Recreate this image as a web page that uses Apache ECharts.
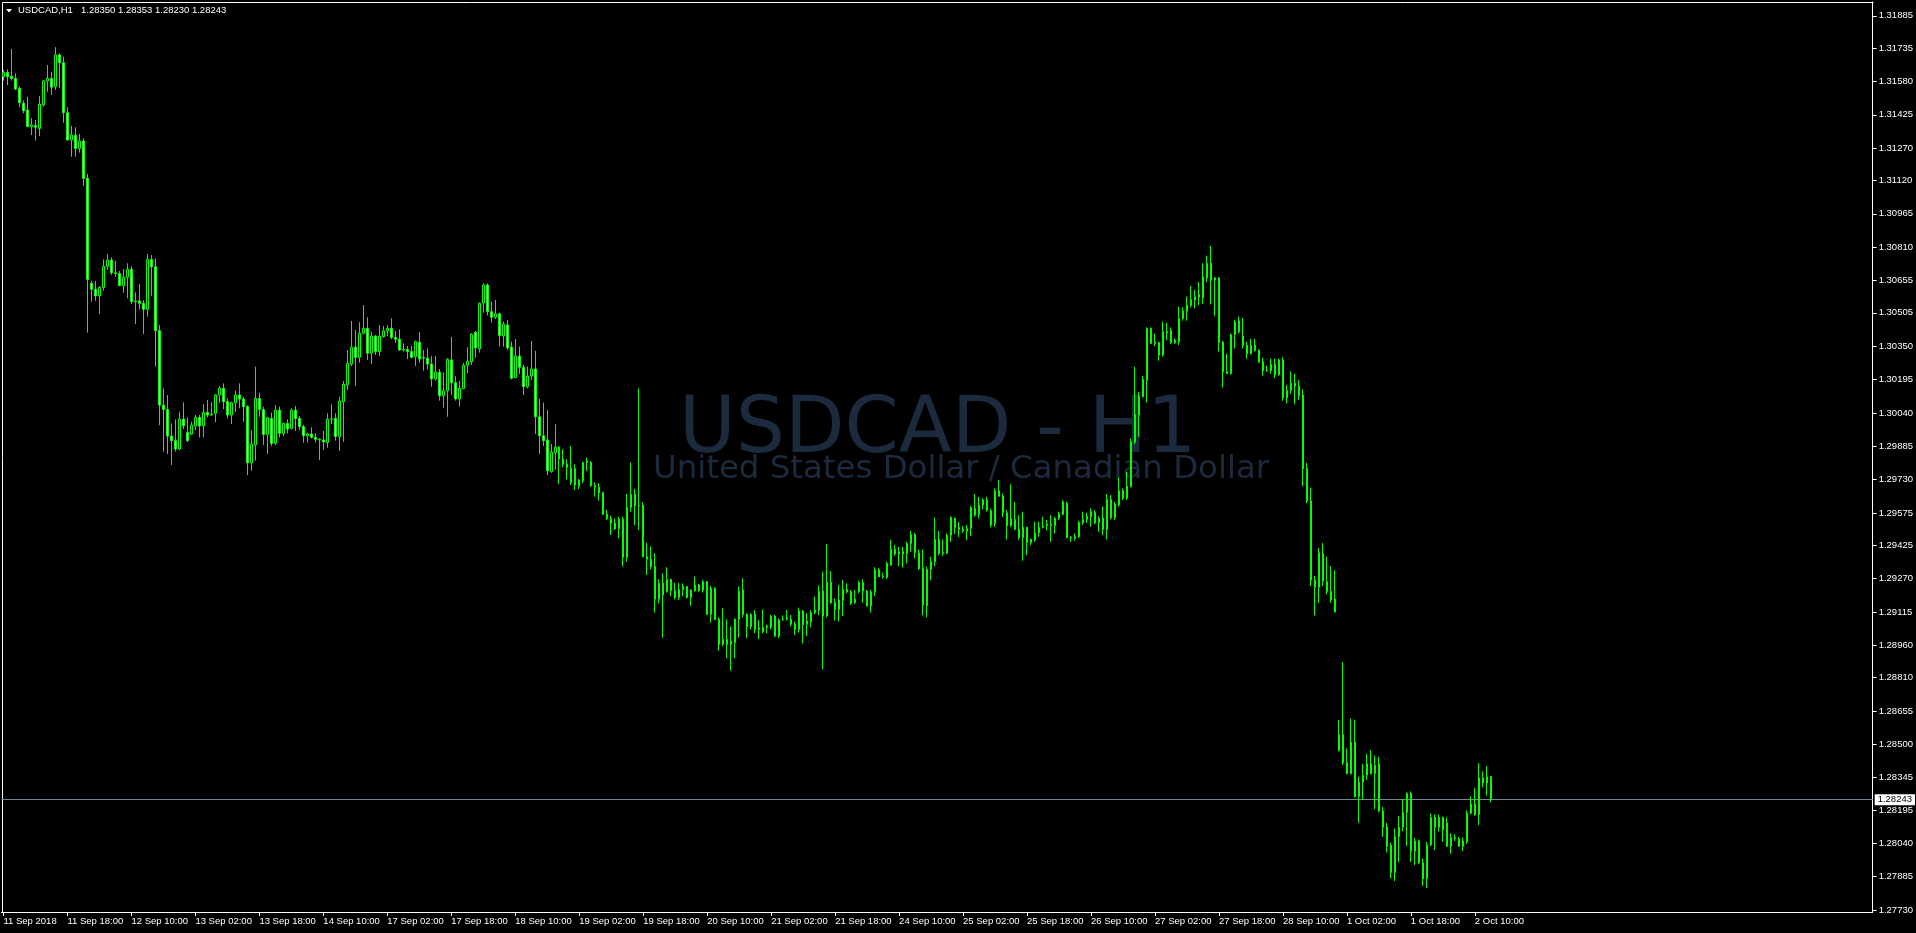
<!DOCTYPE html>
<html>
<head>
<meta charset="utf-8">
<script src="https://cdn.jsdelivr.net/npm/echarts/dist/echarts.min.js"></script>
<style>
html,body{margin:0;padding:0;background:#000;}
#c{width:1916px;height:933px;}
</style>
</head>
<body>
<div id="c"></div>
<script>
// ---------- text ----------
const symbolName = 'USDCAD,H1';
const headerOHLC = ['1.28350', '1.28353', '1.28230', '1.28243'];
const watermarkTitle = 'USDCAD - H1';
const watermarkSubtitle = 'United States Dollar / Canadian Dollar';

// ---------- axis labels ----------
const timeLabels = ['11 Sep 2018','11 Sep 18:00','12 Sep 10:00','13 Sep 02:00','13 Sep 18:00','14 Sep 10:00',
  '17 Sep 02:00','17 Sep 18:00','18 Sep 10:00','19 Sep 02:00','19 Sep 18:00','20 Sep 10:00',
  '21 Sep 02:00','21 Sep 18:00','24 Sep 10:00','25 Sep 02:00','25 Sep 18:00','26 Sep 10:00',
  '27 Sep 02:00','27 Sep 18:00','28 Sep 10:00','1 Oct 02:00','1 Oct 18:00','2 Oct 10:00'];
const priceTicks = [1.31885,1.31735,1.31580,1.31425,1.31270,1.31120,1.30965,1.30810,1.30655,1.30505,
  1.30350,1.30195,1.30040,1.29885,1.29730,1.29575,1.29425,1.29270,1.29115,1.28960,1.28810,1.28655,
  1.28500,1.28345,1.28195,1.28040,1.27885,1.27730];
const lastPrice = 1.28243;

// ---------- H1 candles ----------
const opens = [
1.31602,1.31622,1.31604,1.31594,1.31548,1.31478,1.31447,1.31370,1.31374,1.31361,
1.31471,1.31582,1.31594,1.31556,1.31703,1.31667,1.31435,1.31308,1.31330,1.31268,
1.31303,1.31130,1.30642,1.30614,1.30584,1.30623,1.30721,1.30750,1.30691,1.30687,
1.30631,1.30670,1.30707,1.30557,1.30560,1.30549,1.30521,1.30753,1.30719,1.30422,
1.30076,1.30056,1.29932,1.29911,1.29872,1.30011,1.29949,1.29942,1.29979,1.30019,
1.29980,1.30042,1.30030,1.30038,1.30123,1.30154,1.30092,1.30030,1.30087,1.30123,
1.30104,1.30069,1.29808,1.29891,1.30107,1.30056,1.29940,1.30014,1.29898,1.30053,
1.29945,1.29991,1.29968,1.30053,1.30014,1.29976,1.29934,1.29942,1.29926,1.29917,
1.29914,1.29902,1.30010,1.30015,1.29930,1.30092,1.30170,1.30267,1.30345,1.30298,
1.30410,1.30433,1.30317,1.30397,1.30325,1.30394,1.30421,1.30433,1.30390,1.30382,
1.30332,1.30335,1.30325,1.30301,1.30368,1.30294,1.30294,1.30267,1.30198,1.30229,
1.30120,1.30143,1.30286,1.30180,1.30105,1.30153,1.30261,1.30278,1.30414,1.30337,
1.30551,1.30634,1.30510,1.30484,1.30500,1.30397,1.30448,1.30345,1.30204,1.30304,
1.30252,1.30162,1.30211,1.30244,1.30022,1.29934,1.29914,1.29767,1.29855,1.29880,
1.29826,1.29801,1.29782,1.29705,1.29728,1.29725,1.29809,1.29810,1.29702,1.29694,
1.29669,1.29569,1.29550,1.29527,1.29502,1.29546,1.29369,1.29601,1.29662,1.29609,
1.29611,1.29372,1.29360,1.29326,1.29174,1.29248,1.29209,1.29267,1.29214,1.29182,
1.29220,1.29233,1.29183,1.29214,1.29240,1.29217,1.29256,1.29104,1.29225,1.29081,
1.28966,1.28988,1.28965,1.28972,1.29081,1.29217,1.29104,1.29047,1.29104,1.29034,
1.29042,1.29044,1.29044,1.29096,1.29003,1.29078,1.29081,1.29081,1.29058,1.29034,
1.29120,1.29058,1.29070,1.29113,1.29124,1.29212,1.29096,1.29253,1.29158,1.29127,
1.29168,1.29220,1.29209,1.29158,1.29209,1.29251,1.29212,1.29143,1.29209,1.29310,
1.29279,1.29276,1.29333,1.29406,1.29384,1.29395,1.29387,1.29433,1.29475,1.29390,
1.29317,1.29144,1.29313,1.29348,1.29452,1.29387,1.29387,1.29472,1.29550,1.29508,
1.29499,1.29491,1.29503,1.29596,1.29568,1.29612,1.29635,1.29585,1.29526,1.29678,
1.29653,1.29576,1.29516,1.29545,1.29499,1.29461,1.29508,1.29437,1.29449,1.29483,
1.29508,1.29516,1.29523,1.29516,1.29550,1.29568,1.29619,1.29461,1.29464,1.29464,
1.29529,1.29545,1.29557,1.29577,1.29529,1.29550,1.29499,1.29638,1.29553,1.29612,
1.29678,1.29643,1.29697,1.29903,1.30030,1.30115,1.30190,1.30433,1.30363,1.30366,
1.30309,1.30417,1.30422,1.30366,1.30371,1.30479,1.30510,1.30538,1.30564,1.30578,
1.30575,1.30667,1.30735,1.30657,1.30667,1.30368,1.30231,1.30223,1.30403,1.30468,
1.30397,1.30354,1.30315,1.30354,1.30331,1.30276,1.30237,1.30237,1.30266,1.30217,
1.30286,1.30110,1.30145,1.30178,1.30165,1.30123,1.29781,1.29631,1.29263,1.29230,
1.29386,1.29255,1.29210,1.29175,1.28471,1.28545,1.28414,1.28364,1.28510,1.28258,
1.28324,1.28356,1.28409,1.28364,1.28409,1.28190,1.28115,1.28031,1.27904,1.28072,
1.28115,1.28184,1.28272,1.28004,1.28051,1.27949,1.27875,1.28033,1.28160,1.28115,
1.28160,1.28135,1.28027,1.28066,1.28060,1.28027,1.28047,1.28180,1.28223,1.28174,
1.28344,1.28320,1.28350];
const closes = [
1.31622,1.31602,1.31593,1.31545,1.31481,1.31444,1.31370,1.31378,1.31367,1.31475,
1.31582,1.31594,1.31553,1.31703,1.31667,1.31435,1.31308,1.31331,1.31268,1.31303,
1.31130,1.30660,1.30614,1.30583,1.30623,1.30721,1.30750,1.30691,1.30687,1.30631,
1.30670,1.30707,1.30557,1.30560,1.30549,1.30521,1.30753,1.30719,1.30422,1.30076,
1.30056,1.29932,1.29911,1.29872,1.30011,1.29980,1.29911,1.29983,1.30019,1.29979,
1.30042,1.30030,1.30033,1.30123,1.30154,1.30092,1.30030,1.30087,1.30123,1.30104,
1.30069,1.29808,1.29894,1.30107,1.30056,1.29940,1.30018,1.29898,1.30053,1.29945,
1.29991,1.29965,1.30053,1.30014,1.29976,1.29934,1.29942,1.29926,1.29917,1.29914,
1.29905,1.30010,1.30012,1.29930,1.30095,1.30173,1.30270,1.30345,1.30298,1.30410,
1.30433,1.30317,1.30397,1.30325,1.30397,1.30421,1.30433,1.30390,1.30382,1.30332,
1.30335,1.30325,1.30298,1.30371,1.30290,1.30297,1.30267,1.30198,1.30229,1.30120,
1.30142,1.30289,1.30180,1.30105,1.30154,1.30261,1.30280,1.30405,1.30343,1.30549,
1.30634,1.30510,1.30484,1.30500,1.30399,1.30452,1.30343,1.30201,1.30304,1.30252,
1.30162,1.30211,1.30244,1.30022,1.29934,1.29911,1.29772,1.29857,1.29880,1.29826,
1.29801,1.29787,1.29716,1.29782,1.29702,1.29809,1.29816,1.29702,1.29694,1.29669,
1.29569,1.29550,1.29527,1.29502,1.29546,1.29369,1.29601,1.29662,1.29609,1.29611,
1.29372,1.29360,1.29326,1.29174,1.29248,1.29194,1.29267,1.29214,1.29182,1.29220,
1.29233,1.29182,1.29217,1.29240,1.29214,1.29256,1.29104,1.29225,1.29081,1.28965,
1.28988,1.28965,1.28980,1.29081,1.29212,1.29104,1.29047,1.29104,1.29034,1.29042,
1.29024,1.29050,1.29096,1.29003,1.29078,1.29081,1.29086,1.29058,1.29034,1.29120,
1.29055,1.29073,1.29113,1.29124,1.29212,1.29096,1.29253,1.29158,1.29127,1.29171,
1.29220,1.29209,1.29155,1.29175,1.29251,1.29212,1.29143,1.29209,1.29310,1.29279,
1.29282,1.29341,1.29406,1.29384,1.29395,1.29384,1.29433,1.29475,1.29390,1.29317,
1.29147,1.29313,1.29348,1.29452,1.29387,1.29392,1.29472,1.29554,1.29508,1.29499,
1.29491,1.29503,1.29601,1.29565,1.29612,1.29635,1.29588,1.29519,1.29678,1.29653,
1.29576,1.29516,1.29550,1.29499,1.29461,1.29508,1.29437,1.29452,1.29483,1.29508,
1.29514,1.29523,1.29516,1.29550,1.29570,1.29627,1.29461,1.29460,1.29457,1.29531,
1.29545,1.29560,1.29581,1.29529,1.29550,1.29499,1.29638,1.29553,1.29616,1.29678,
1.29643,1.29700,1.29906,1.30034,1.30118,1.30196,1.30433,1.30363,1.30371,1.30309,
1.30417,1.30412,1.30366,1.30378,1.30479,1.30513,1.30541,1.30567,1.30580,1.30590,
1.30671,1.30735,1.30657,1.30667,1.30368,1.30231,1.30223,1.30403,1.30462,1.30417,
1.30354,1.30315,1.30354,1.30331,1.30276,1.30237,1.30236,1.30266,1.30217,1.30286,
1.30110,1.30145,1.30178,1.30165,1.30120,1.29781,1.29631,1.29263,1.29230,1.29392,
1.29259,1.29210,1.29171,1.29116,1.28545,1.28414,1.28364,1.28510,1.28258,1.28324,
1.28356,1.28409,1.28364,1.28403,1.28190,1.28115,1.28027,1.27904,1.28072,1.28115,
1.28184,1.28272,1.28004,1.28051,1.27949,1.27875,1.28033,1.28160,1.28115,1.28160,
1.28102,1.28027,1.28066,1.28064,1.28027,1.28051,1.28180,1.28223,1.28174,1.28344,
1.28320,1.28350,1.28243];
const highs = [
1.31633,1.31636,1.31731,1.31618,1.31556,1.31491,1.31509,1.31409,1.31401,1.31512,
1.31587,1.31656,1.31625,1.31739,1.31711,1.31695,1.31460,1.31373,1.31367,1.31336,
1.31316,1.31150,1.30654,1.30653,1.30629,1.30753,1.30778,1.30763,1.30746,1.30699,
1.30708,1.30735,1.30722,1.30600,1.30639,1.30564,1.30778,1.30773,1.30758,1.30448,
1.30154,1.30123,1.29991,1.30010,1.30045,1.30089,1.30018,1.29999,1.30030,1.30030,
1.30081,1.30100,1.30089,1.30128,1.30165,1.30177,1.30107,1.30092,1.30143,1.30177,
1.30115,1.30076,1.29960,1.30255,1.30134,1.30069,1.30022,1.30041,1.30076,1.30069,
1.29994,1.30010,1.30061,1.30072,1.30025,1.29984,1.29948,1.29973,1.29945,1.29922,
1.29956,1.30038,1.30080,1.30038,1.30115,1.30188,1.30332,1.30467,1.30425,1.30461,
1.30541,1.30484,1.30417,1.30402,1.30448,1.30444,1.30448,1.30479,1.30421,1.30428,
1.30363,1.30351,1.30351,1.30376,1.30416,1.30332,1.30340,1.30304,1.30304,1.30244,
1.30227,1.30294,1.30393,1.30211,1.30188,1.30273,1.30345,1.30410,1.30421,1.30552,
1.30642,1.30642,1.30557,1.30565,1.30506,1.30464,1.30472,1.30371,1.30383,1.30348,
1.30263,1.30255,1.30374,1.30328,1.30105,1.30088,1.30053,1.29895,1.29988,1.29886,
1.29871,1.29824,1.29886,1.29801,1.29733,1.29813,1.29832,1.29816,1.29717,1.29713,
1.29674,1.29589,1.29563,1.29550,1.29558,1.29558,1.29663,1.29810,1.29687,1.30154,
1.29625,1.29437,1.29419,1.29388,1.29267,1.29295,1.29323,1.29268,1.29251,1.29248,
1.29248,1.29236,1.29220,1.29279,1.29245,1.29264,1.29259,1.29236,1.29230,1.29090,
1.29132,1.29081,1.29047,1.29086,1.29233,1.29271,1.29109,1.29109,1.29124,1.29078,
1.29127,1.29055,1.29101,1.29101,1.29086,1.29099,1.29124,1.29101,1.29070,1.29135,
1.29124,1.29109,1.29124,1.29186,1.29237,1.29302,1.29431,1.29305,1.29178,1.29240,
1.29264,1.29248,1.29217,1.29217,1.29260,1.29267,1.29217,1.29217,1.29323,1.29318,
1.29298,1.29349,1.29450,1.29426,1.29418,1.29418,1.29441,1.29492,1.29483,1.29406,
1.29406,1.29325,1.29371,1.29554,1.29491,1.29452,1.29480,1.29560,1.29554,1.29534,
1.29514,1.29519,1.29607,1.29663,1.29650,1.29643,1.29650,1.29596,1.29689,1.29728,
1.29666,1.29588,1.29708,1.29627,1.29565,1.29581,1.29511,1.29457,1.29534,1.29534,
1.29557,1.29542,1.29565,1.29557,1.29581,1.29635,1.29627,1.29468,1.29480,1.29539,
1.29581,1.29576,1.29596,1.29588,1.29560,1.29604,1.29663,1.29658,1.29627,1.29740,
1.29689,1.29766,1.29921,1.30254,1.30138,1.30211,1.30437,1.30437,1.30409,1.30371,
1.30464,1.30459,1.30437,1.30386,1.30533,1.30530,1.30580,1.30629,1.30611,1.30648,
1.30735,1.30771,1.30816,1.30671,1.30671,1.30374,1.30315,1.30409,1.30472,1.30487,
1.30481,1.30370,1.30384,1.30384,1.30335,1.30296,1.30260,1.30292,1.30292,1.30292,
1.30299,1.30168,1.30233,1.30221,1.30192,1.30149,1.29807,1.29693,1.29283,1.29412,
1.29435,1.29372,1.29328,1.29308,1.28614,1.28882,1.28481,1.28620,1.28614,1.28350,
1.28409,1.28457,1.28473,1.28448,1.28442,1.28209,1.28135,1.28043,1.28109,1.28168,
1.28246,1.28277,1.28281,1.28066,1.28057,1.27969,1.28047,1.28180,1.28174,1.28174,
1.28165,1.28160,1.28086,1.28082,1.28070,1.28066,1.28193,1.28258,1.28297,1.28412,
1.28375,1.28399,1.28353];
const lows = [
1.31584,1.31563,1.31584,1.31540,1.31460,1.31432,1.31367,1.31331,1.31305,1.31326,
1.31463,1.31532,1.31517,1.31540,1.31548,1.31388,1.31305,1.31230,1.31230,1.31249,
1.31094,1.30413,1.30557,1.30561,1.30499,1.30608,1.30704,1.30681,1.30673,1.30629,
1.30598,1.30572,1.30546,1.30453,1.30521,1.30406,1.30487,1.30584,1.30255,1.29983,
1.29860,1.29849,1.29798,1.29860,1.29867,1.29965,1.29905,1.29937,1.29960,1.29926,
1.29926,1.30019,1.30027,1.29996,1.30087,1.30058,1.30014,1.29988,1.30045,1.30061,
1.29999,1.29751,1.29771,1.29818,1.30022,1.29891,1.29849,1.29886,1.29891,1.29926,
1.29932,1.29945,1.29963,1.29956,1.29960,1.29902,1.29902,1.29922,1.29902,1.29821,
1.29868,1.29878,1.29988,1.29911,1.29863,1.29906,1.30146,1.30258,1.30165,1.30273,
1.30405,1.30286,1.30267,1.30309,1.30304,1.30390,1.30397,1.30382,1.30366,1.30328,
1.30325,1.30290,1.30294,1.30258,1.30273,1.30236,1.30242,1.30162,1.30190,1.30097,
1.30064,1.30022,1.30123,1.30097,1.30069,1.30150,1.30224,1.30263,1.30297,1.30320,
1.30506,1.30492,1.30459,1.30476,1.30348,1.30348,1.30332,1.30196,1.30201,1.30221,
1.30123,1.30154,1.30193,1.29942,1.29849,1.29886,1.29751,1.29762,1.29778,1.29710,
1.29787,1.29731,1.29705,1.29682,1.29686,1.29713,1.29770,1.29697,1.29651,1.29632,
1.29566,1.29542,1.29473,1.29496,1.29457,1.29326,1.29349,1.29581,1.29519,1.29496,
1.29369,1.29287,1.29313,1.29112,1.29155,1.28996,1.29205,1.29189,1.29174,1.29171,
1.29189,1.29178,1.29144,1.29209,1.29209,1.29205,1.29101,1.29065,1.29078,1.28935,
1.28957,1.28900,1.28842,1.28900,1.28996,1.29090,1.28993,1.29034,1.29016,1.28988,
1.29016,1.29016,1.29034,1.29000,1.28993,1.29075,1.29075,1.29047,1.29008,1.29019,
1.28969,1.29003,1.29044,1.29104,1.29101,1.28849,1.29090,1.29152,1.29075,1.29070,
1.29096,1.29202,1.29147,1.29152,1.29202,1.29158,1.29140,1.29112,1.29189,1.29276,
1.29271,1.29268,1.29329,1.29375,1.29328,1.29322,1.29340,1.29395,1.29364,1.29310,
1.29100,1.29090,1.29263,1.29328,1.29379,1.29375,1.29384,1.29441,1.29477,1.29464,
1.29483,1.29449,1.29468,1.29557,1.29550,1.29591,1.29581,1.29508,1.29511,1.29650,
1.29557,1.29452,1.29511,1.29495,1.29449,1.29353,1.29379,1.29426,1.29441,1.29464,
1.29503,1.29495,1.29441,1.29480,1.29542,1.29565,1.29457,1.29441,1.29446,1.29460,
1.29519,1.29529,1.29511,1.29523,1.29488,1.29472,1.29452,1.29545,1.29542,1.29604,
1.29635,1.29635,1.29694,1.29895,1.29929,1.30112,1.30087,1.30360,1.30350,1.30282,
1.30301,1.30378,1.30360,1.30360,1.30355,1.30468,1.30468,1.30530,1.30525,1.30540,
1.30546,1.30648,1.30544,1.30491,1.30325,1.30159,1.30221,1.30217,1.30339,1.30409,
1.30339,1.30292,1.30311,1.30325,1.30272,1.30213,1.30231,1.30221,1.30202,1.30213,
1.30096,1.30084,1.30129,1.30080,1.30100,1.29699,1.29621,1.29236,1.29099,1.29157,
1.29236,1.29197,1.29157,1.29112,1.28467,1.28403,1.28360,1.28360,1.28252,1.28135,
1.28242,1.28334,1.28360,1.28199,1.28184,1.28070,1.27998,1.27877,1.27865,1.27953,
1.28096,1.28027,1.27953,1.27939,1.27943,1.27842,1.27832,1.28027,1.28008,1.28096,
1.28047,1.28023,1.27992,1.28051,1.28023,1.28004,1.28037,1.28174,1.28168,1.28125,
1.28301,1.28262,1.28230];

// ---------- layout constants ----------
const SLOT_COUNT = 468;      // bar slots across the plot (incl. empty right-hand shift)
const LABEL_STEP = 16;       // one time label every 16 bars
const FONT = 'Liberation Sans';

const categories = Array.from({length: SLOT_COUNT}, (_, i) => String(i));
const candles = opens.map((o, i) => [o, closes[i], lows[i], highs[i]]);
const showTime = (i) => i % LABEL_STEP === 0 && i < opens.length;

const chart = echarts.init(document.getElementById('c'), null, {renderer: 'canvas'});
chart.setOption({
  backgroundColor: '#000000',
  animation: false,
  grid: {left: 1.5, right: 42.5, top: 2, bottom: 21, show: false},
  xAxis: {
    type: 'category',
    data: categories,
    boundaryGap: true,
    axisLine: {show: true, lineStyle: {color: '#ffffff', width: 1}},
    axisTick: {show: true, alignWithLabel: true, length: 4,
      interval: showTime, lineStyle: {color: '#ffffff'}},
    axisLabel: {show: true, interval: showTime,
      formatter: (v, i) => timeLabels[i / LABEL_STEP] || '',
      align: 'left', color: '#ffffff', fontFamily: FONT, fontSize: 9.5, margin: 4},
    splitLine: {show: false}
  },
  yAxis: {
    type: 'value',
    position: 'right',
    min: 1.27721,
    max: 1.31949,
    axisLine: {show: true, lineStyle: {color: '#ffffff', width: 1}},
    axisTick: {show: true, customValues: priceTicks, length: 4, lineStyle: {color: '#ffffff'}},
    axisLabel: {show: true, customValues: priceTicks, formatter: (v) => v.toFixed(5),
      color: '#ffffff', fontFamily: FONT, fontSize: 9.5, margin: 6},
    splitLine: {show: false}
  },
  series: [{
    type: 'candlestick',
    data: candles,
    barWidth: 2,
    z: 5,
    itemStyle: {color: '#000000', color0: '#ffffff', borderColor: '#00ff00',
      borderColor0: '#00ff00', borderWidth: 1},
    markLine: {
      silent: true, symbol: ['none', 'none'], animation: false, precision: 5,
      lineStyle: {color: '#778899', width: 1, type: 'solid'},
      label: {show: true, position: 'end', formatter: lastPrice.toFixed(5),
        color: '#000000', backgroundColor: '#ffffff', fontFamily: FONT, fontSize: 9.5,
        padding: [1, 3, 0, 3], distance: 2},
      emphasis: {disabled: true},
      data: [{yAxis: lastPrice}]
    }
  }],
  graphic: [
    {type: 'line', z: 1, shape: {x1: 2.5, y1: 2.5, x2: 1873.5, y2: 2.5},
      style: {stroke: '#ffffff', lineWidth: 1}},
    {type: 'line', z: 1, shape: {x1: 2.5, y1: 2.5, x2: 2.5, y2: 912.5},
      style: {stroke: '#ffffff', lineWidth: 1}},
    {type: 'polygon', z: 1, shape: {points: [[6, 9], [12, 9], [9, 12.5]]},
      style: {fill: '#ffffff'}},
    {type: 'text', z: 1, x: 18, y: 10.5,
      style: {text: symbolName, fill: '#ffffff', font: '9.5px "Liberation Sans"',
        align: 'left', verticalAlign: 'middle'}},
    {type: 'text', z: 1, x: 81, y: 10.5,
      style: {text: headerOHLC.join(' '), fill: '#ffffff', font: '9.5px "Liberation Sans"',
        align: 'left', verticalAlign: 'middle'}},
    {type: 'text', z: 0, x: 679, y: 432,
      style: {text: watermarkTitle, fill: '#1b2a3c', font: '77.5px "DejaVu Sans"',
        align: 'left', verticalAlign: 'middle'}},
    {type: 'text', z: 0, x: 653, y: 470,
      style: {text: watermarkSubtitle, fill: '#1b2a3c', font: '32.4px "DejaVu Sans"',
        align: 'left', verticalAlign: 'middle'}}
  ]
});
</script>
</body>
</html>
